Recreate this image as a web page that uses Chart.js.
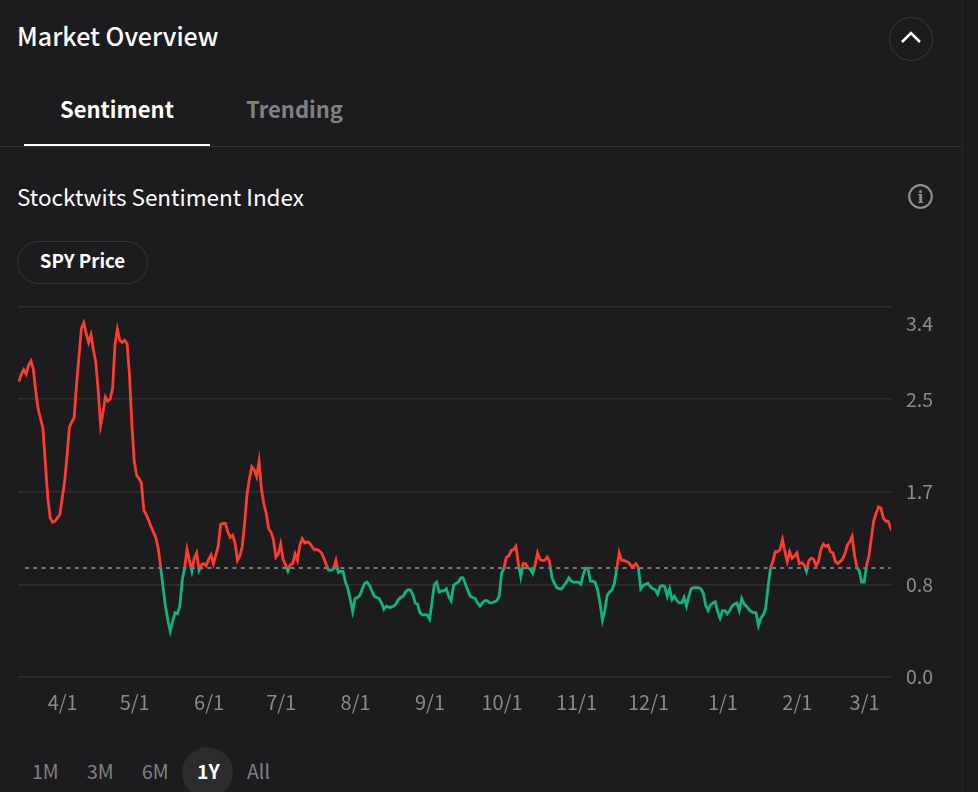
<!DOCTYPE html>
<html>
<head>
<meta charset="utf-8">
<title>Market Overview</title>
<script src="https://cdn.jsdelivr.net/npm/chart.js@4"></script>
<style>
html, body { margin: 0; padding: 0; background: #1c1c1e; }
body { width: 978px; height: 792px; position: relative; overflow: hidden; font-family: "Noto Sans CJK SC", "Noto Sans", sans-serif; color: #fff; }
.abs { position: absolute; white-space: nowrap; line-height: 1; }
.title { left: 17px; top: 23px; font-size: 25px; font-weight: 500; }
.tab { top: 97px; font-size: 22px; font-weight: 700; }
.tab.off { color: #808082; }
.underline { position: absolute; left: 24px; top: 144px; width: 186px; height: 2px; background: #fff; }
.divider { position: absolute; left: 0; top: 146px; width: 962px; height: 1px; background: #333335; }
.vline { position: absolute; left: 962px; top: 0; width: 1px; height: 792px; background: #262628; }
.subtitle { left: 17px; top: 185px; font-size: 22.5px; font-weight: 400; }
.pill { position: absolute; left: 17px; top: 241px; width: 129px; height: 41px; border: 1px solid #363638; border-radius: 22px; font-size: 18.7px; font-weight: 700; text-align: center; line-height: 36px; }
.round { position: absolute; left: 889px; top: 17px; width: 42px; height: 42px; border: 1px solid #3a3a3c; border-radius: 50%; }
.range { top: 761px; font-size: 19.5px; color: #808082; }
.range.on { color: #fff; font-weight: 700; }
.rangeDot { position: absolute; left: 182px; top: 747px; width: 51px; height: 51px; border-radius: 50%; background: #2c2c2e; }
canvas { position: absolute; left: 0; top: 266px; }
</style>
</head>
<body>
<div class="abs title">Market Overview</div>
<div class="round"></div>
<svg class="abs" style="left:899px;top:29px" width="24" height="16"><polyline points="3,13 12,4 21,13" fill="none" stroke="#fff" stroke-width="2.6"/></svg>
<div class="abs tab" style="left:60px">Sentiment</div>
<div class="abs tab off" style="left:246px">Trending</div>
<div class="divider"></div>
<div class="underline"></div>
<div class="vline"></div>
<div class="abs subtitle">Stocktwits Sentiment Index</div>
<svg class="abs" style="left:907px;top:183px" width="28" height="28"><circle cx="13.5" cy="13.5" r="11.3" fill="none" stroke="#8e8e90" stroke-width="2.2"/><text x="13.5" y="20" text-anchor="middle" font-family="DejaVu Serif" font-weight="700" font-size="16" fill="#8e8e90">i</text></svg>
<div class="pill">SPY Price</div>
<canvas id="sentimentChart" width="978" height="454"></canvas>
<div class="rangeDot"></div>
<div class="abs range" style="left:32px">1M</div>
<div class="abs range" style="left:87px">3M</div>
<div class="abs range" style="left:142px">6M</div>
<div class="abs range on" style="left:197px">1Y</div>
<div class="abs range" style="left:247px">All</div>
<script>
// one value per day
const sentimentValues = [
  2.71,2.78,2.82,2.78,2.86,2.90,2.82,2.62,2.46,2.37,2.28,1.96,1.65,1.46,1.42,1.43,1.46,1.49,1.64,1.79,2.02,2.29,2.34,2.38,2.69,2.94,3.20,3.25,3.15,
  3.07,3.14,3.00,2.89,2.63,2.31,2.43,2.57,2.53,2.55,2.65,3.05,3.19,3.09,3.07,3.09,3.06,2.79,2.33,1.98,1.85,1.82,1.78,1.53,1.49,1.44,1.38,1.33,1.28,
  1.18,1.01,0.83,0.65,0.52,0.42,0.51,0.59,0.58,0.65,0.89,1.00,1.17,1.07,0.97,1.09,1.14,0.98,1.03,1.04,1.02,1.08,1.12,1.04,1.12,1.20,1.40,1.41,1.41,1.33,
  1.28,1.30,1.23,1.07,1.11,1.20,1.41,1.68,1.82,1.93,1.90,1.84,1.98,1.72,1.59,1.50,1.36,1.33,1.26,1.10,1.13,1.22,1.08,1.03,0.97,1.03,1.04,1.13,1.07,1.21,
  1.27,1.23,1.24,1.23,1.20,1.17,1.17,1.16,1.14,1.09,1.03,0.98,0.98,0.99,1.07,0.96,
  0.97,0.97,0.87,0.81,0.71,0.60,0.72,0.73,0.75,0.81,0.86,0.87,0.84,0.79,0.74,0.73,0.72,0.68,0.62,0.65,0.64,0.64,0.65,0.67,0.71,0.73,0.74,0.78,0.80,0.80,
  0.76,0.68,0.67,0.59,0.57,0.57,0.57,0.53,0.68,0.85,0.87,0.78,0.79,0.79,0.81,0.74,0.70,0.84,0.86,0.87,0.91,0.91,0.85,0.79,0.74,0.73,0.72,0.68,0.65,0.68,
  0.70,0.70,0.68,0.68,0.69,0.70,0.74,0.95,1.00,1.10,1.11,1.16,1.17,1.20,1.04,0.92,1.04,1.04,1.00,0.99,0.95,1.03,1.14,1.08,1.07,1.07,1.10,1.06,0.91,0.86,
  0.82,0.81,0.81,0.84,0.87,0.91,0.88,0.87,0.87,0.87,0.85,0.94,1.00,1.00,0.88,0.88,0.87,0.80,0.68,0.52,0.61,0.75,0.78,0.80,0.86,1.00,1.14,1.07,1.07,1.06,
  1.05,1.02,1.02,1.04,1.00,0.81,0.84,0.85,0.86,0.83,0.81,0.80,0.76,
  0.83,0.84,0.83,0.74,0.81,0.71,0.74,0.70,0.68,0.68,0.73,0.65,0.74,0.81,0.82,0.82,0.82,0.81,0.77,0.66,0.61,0.66,0.68,0.69,0.60,0.54,0.61,0.61,0.58,0.61,
  0.65,0.67,0.68,0.61,0.72,0.67,0.65,0.62,0.60,0.59,0.59,0.47,0.54,0.57,0.63,0.83,1.00,1.06,1.15,1.15,1.17,1.26,1.15,1.06,1.15,1.09,1.11,1.14,1.04,1.05,
  1.03,0.97,1.07,1.09,1.08,1.02,1.06,1.17,1.22,1.20,1.21,1.15,1.14,1.06,1.04,1.06,1.08,1.13,1.21,1.24,1.29,1.12,1.01,0.97,0.87,0.87,1.02,1.11,1.27,1.43,
  1.50,1.56,1.55,1.46,1.43,1.43,1.37,1.32
];
const neutralLevel = 1.0;
const neutralDays = [2.5, 363];
const tickDays = [18.2, 48.2, 79.2, 109.2, 140.2, 171.2, 201.2, 232.2, 262.2, 293.2, 324.2, 352.2];
const tickLabels = ['4/1', '5/1', '6/1', '7/1', '8/1', '9/1', '10/1', '11/1', '12/1', '1/1', '2/1', '3/1'];
const yTicks = [0, 0.85, 1.7, 2.55, 3.4];
const yTickLabels = ['0.0', '0.8', '1.7', '2.5', '3.4'];

const UP = '#ff3b30';
const DOWN = '#10b47f';

// red above the neutral level, green under it
function splitColor(context) {
  const { ctx, chartArea, scales } = context.chart;
  if (!chartArea) return UP;
  const stop = (scales.y.getPixelForValue(neutralLevel) - chartArea.top) / (chartArea.bottom - chartArea.top);
  const g = ctx.createLinearGradient(0, chartArea.top, 0, chartArea.bottom);
  g.addColorStop(0, UP);
  g.addColorStop(stop, UP);
  g.addColorStop(stop, DOWN);
  g.addColorStop(1, DOWN);
  return g;
}

new Chart(document.getElementById('sentimentChart'), {
  type: 'line',
  data: {
    datasets: [
      {
        label: 'Sentiment',
        data: sentimentValues.map((v, i) => ({ x: i, y: v })),
        borderColor: splitColor,
        borderWidth: 2.8,
        pointRadius: 0,
        tension: 0,
        order: 1
      },
      {
        label: 'Neutral',
        data: neutralDays.map(d => ({ x: d, y: neutralLevel })),
        borderColor: '#7c7c7e',
        borderWidth: 2,
        borderDash: [4, 4.3],
        pointRadius: 0,
        order: 2
      }
    ]
  },
  options: {
    responsive: false,
    animation: false,
    layout: { padding: { left: 18, top: 30, right: 0, bottom: 0 } },
    plugins: { legend: { display: false }, tooltip: { enabled: false } },
    scales: {
      x: {
        type: 'linear',
        min: -0.4,
        max: 363.2,
        grid: { display: false },
        border: { display: false },
        afterBuildTicks: scale => { scale.ticks = tickDays.map(value => ({ value })); },
        afterFit: scale => { scale.height = 43; },
        ticks: {
          autoSkip: false,
          maxRotation: 0,
          color: '#8a8a8c',
          padding: 5,
          font: { family: '"Noto Sans CJK SC"', size: 20 },
          callback: value => tickLabels[tickDays.indexOf(value)]
        }
      },
      y: {
        position: 'right',
        min: 0,
        max: 3.4,
        border: { display: false },
        grid: { color: '#2f2f31', lineWidth: 1.6, drawTicks: false },
        afterBuildTicks: scale => { scale.ticks = yTicks.map(value => ({ value })); },
        afterFit: scale => { scale.width = 87; },
        ticks: {
          autoSkip: false,
          color: '#8a8a8c',
          padding: 15,
          font: { family: '"Noto Sans CJK SC"', size: 19.5, lineHeight: '17px' },
          // the top label sits under its grid line
          callback: value => value === 3.4 ? ['', '', '3.4'] : yTickLabels[yTicks.indexOf(value)]
        }
      }
    }
  }
});
</script>
</body>
</html>
